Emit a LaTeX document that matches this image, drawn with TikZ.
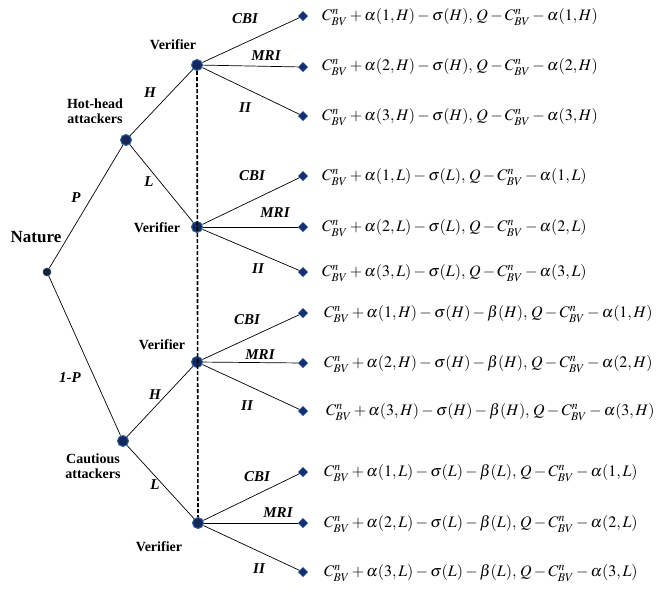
\documentclass[tikz,border=0pt]{standalone}
\usepackage{mathptmx}
\usepackage{fontspec}
\setmainfont{Liberation Serif}
\usetikzlibrary{shapes.geometric}
\begin{document}
\begin{tikzpicture}[x=1pt,y=-1pt,
  dec/.style={circle,fill={rgb,255:red,22;green,40;blue,90},draw={rgb,255:red,50;green,95;blue,160},line width=1pt,minimum size=11pt,inner sep=0pt},
  root/.style={circle,fill={rgb,255:red,20;green,35;blue,70},draw={rgb,255:red,40;green,80;blue,70},line width=0.6pt,minimum size=8pt,inner sep=0pt},
  leaf/.style={diamond,fill={rgb,255:red,22;green,45;blue,110},draw={rgb,255:red,60;green,100;blue,170},line width=0.5pt,minimum size=9.5pt,inner sep=0pt},
  edge/.style={draw=black,line width=0.7pt},
  lbl/.style={font=\bfseries\fontsize{14}{15}\selectfont,align=center},
  act/.style={font=\bfseries\itshape\fontsize{15}{16}\selectfont},
  pay/.style={anchor=west,font=\fontsize{16}{17}\selectfont,inner sep=0pt}]
\useasboundingbox (0,0) rectangle (664,590);

% decision nodes
\node[root] (N) at (47,272) {};
\node[dec] (A1) at (126,140) {};
\node[dec] (A2) at (123,441) {};
\node[dec] (V1) at (197,65) {};
\node[dec] (V2) at (197,227) {};
\node[dec] (V3) at (197,362) {};
\node[dec] (V4) at (198,523) {};

% information set
\draw[line width=1.6pt,dash pattern=on 4pt off 2pt] (V1) -- (V4);

% chance and attacker moves
\draw[edge] (N) -- (A1);
\draw[edge] (N) -- (A2);
\draw[edge] (A1) -- (V1);
\draw[edge] (A1) -- (V2);
\draw[edge] (A2) -- (V3);
\draw[edge] (A2) -- (V4);

% labels of players
\node[font=\bfseries\fontsize{17}{19}\selectfont] at (36,237) {Nature};
\node[lbl] at (95,111) {Hot-head\\attackers};
\node[lbl] at (93,466) {Cautious\\attackers};
\node[lbl] at (173,45) {Verifier};
\node[lbl] at (157,228) {Verifier};
\node[lbl] at (162,345) {Verifier};
\node[lbl] at (159,547) {Verifier};

% move labels
\node[act] at (76,198) {P};
\node[act] at (70,378) {1-P};
\node[act] at (150,93) {H};
\node[act] at (149,182) {L};
\node[act] at (155,395) {H};
\node[act] at (155,485) {L};

% verifier moves and payoffs
\foreach \v/\ya/\yb/\yc [count=\k] in
  {V1/16/67/116, V2/176/227/272, V3/313/363/411, V4/472/523/572}{
  \node[leaf] (T\k a) at (303,\ya) {};
  \node[leaf] (T\k b) at (303,\yb) {};
  \node[leaf] (T\k c) at (303,\yc) {};
  \draw[edge] (\v) -- (T\k a);
  \draw[edge] (\v) -- (T\k b);
  \draw[edge] (\v) -- (T\k c);
}
\node[act] at (245,19) {CBI};
\node[act] at (266,56) {MRI};
\node[act] at (245,108) {II};
\node[act] at (252,176) {CBI};
\node[act] at (275,213) {MRI};
\node[act] at (258,269) {II};
\node[act] at (247,320) {CBI};
\node[act] at (260,355) {MRI};
\node[act] at (247,406) {II};
\node[act] at (257,477) {CBI};
\node[act] at (278,513) {MRI};
\node[act] at (259,569) {II};

\node[pay] at (322,17) {$C_{BV}^{n}+\alpha(1,H)-\sigma(H),\,Q-C_{BV}^{n}-\alpha(1,H)$};
\node[pay] at (322,67) {$C_{BV}^{n}+\alpha(2,H)-\sigma(H),\,Q-C_{BV}^{n}-\alpha(2,H)$};
\node[pay] at (322,117) {$C_{BV}^{n}+\alpha(3,H)-\sigma(H),\,Q-C_{BV}^{n}-\alpha(3,H)$};
\node[pay] at (322,177) {$C_{BV}^{n}+\alpha(1,L)-\sigma(L),\,Q-C_{BV}^{n}-\alpha(1,L)$};
\node[pay] at (322,228) {$C_{BV}^{n}+\alpha(2,L)-\sigma(L),\,Q-C_{BV}^{n}-\alpha(2,L)$};
\node[pay] at (322,273) {$C_{BV}^{n}+\alpha(3,L)-\sigma(L),\,Q-C_{BV}^{n}-\alpha(3,L)$};
\node[pay] at (324,314) {$C_{BV}^{n}+\alpha(1,H)-\sigma(H)-\beta(H),\,Q-C_{BV}^{n}-\alpha(1,H)$};
\node[pay] at (324,364) {$C_{BV}^{n}+\alpha(2,H)-\sigma(H)-\beta(H),\,Q-C_{BV}^{n}-\alpha(2,H)$};
\node[pay] at (326,412) {$C_{BV}^{n}+\alpha(3,H)-\sigma(H)-\beta(H),\,Q-C_{BV}^{n}-\alpha(3,H)$};
\node[pay] at (324,473) {$C_{BV}^{n}+\alpha(1,L)-\sigma(L)-\beta(L),\,Q-C_{BV}^{n}-\alpha(1,L)$};
\node[pay] at (324,524) {$C_{BV}^{n}+\alpha(2,L)-\sigma(L)-\beta(L),\,Q-C_{BV}^{n}-\alpha(2,L)$};
\node[pay] at (324,573) {$C_{BV}^{n}+\alpha(3,L)-\sigma(L)-\beta(L),\,Q-C_{BV}^{n}-\alpha(3,L)$};
\end{tikzpicture}
\end{document}
